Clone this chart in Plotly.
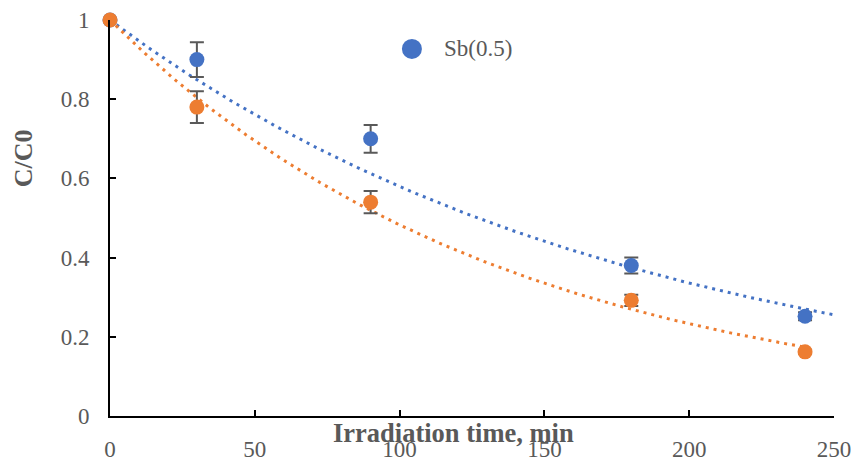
import numpy as np
import plotly.graph_objects as go

time_min = [0, 30, 90, 180, 240]
sb05 = [1.0, 0.90, 0.70, 0.38, 0.252]
sb05_err = [0.0, 0.044, 0.035, 0.02, 0.01]
other = [1.0, 0.78, 0.54, 0.292, 0.162]
other_err = [0.0, 0.04, 0.028, 0.014, 0.005]
x_ticks = [0, 50, 100, 150, 200, 250]
y_ticks = [0, 0.2, 0.4, 0.6, 0.8, 1]
y_tick_text = ["0", "0.2", "0.4", "0.6", "0.8", "1"]
legend_label = "Sb(0.5)"

BLUE = "#4472C4"
ORANGE = "#ED7D31"
GRAY = "#595959"
FONT = "Liberation Serif, Times New Roman, serif"


def exp_fit_fixed_intercept(x, y):
    # exponential trendline with intercept fixed at 1: y = exp(b*x)
    x = np.asarray(x, float)
    ly = np.log(np.asarray(y, float))
    return np.sum(x * ly) / np.sum(x * x)


b_blue = exp_fit_fixed_intercept(time_min, sb05)
b_orange = exp_fit_fixed_intercept(time_min, other)
xb = np.linspace(0, 250, 200)
xo = np.linspace(0, 240, 200)

fig = go.Figure()
fig.add_trace(go.Scatter(x=xb, y=np.exp(b_blue * xb), mode="lines",
                         line=dict(color=BLUE, width=3, dash="3px,5px"),
                         showlegend=False, hoverinfo="skip", cliponaxis=False))
fig.add_trace(go.Scatter(x=xo, y=np.exp(b_orange * xo), mode="lines",
                         line=dict(color=ORANGE, width=3, dash="3px,5px"),
                         showlegend=False, hoverinfo="skip", cliponaxis=False))
fig.add_trace(go.Scatter(x=time_min, y=sb05, mode="markers", name=legend_label,
                         marker=dict(color=BLUE, size=15),
                         error_y=dict(type="data", array=sb05_err, color=GRAY,
                                      thickness=2, width=7),
                         showlegend=False, cliponaxis=False))
fig.add_trace(go.Scatter(x=time_min, y=other, mode="markers", name="other",
                         marker=dict(color=ORANGE, size=15),
                         error_y=dict(type="data", array=other_err, color=GRAY,
                                      thickness=2, width=7),
                         showlegend=False, cliponaxis=False))

# manual legend (larger symbol than plotly's legend allows)
lx, ly = 0.417, 0.927
fig.add_shape(type="circle", xref="paper", yref="paper", xsizemode="pixel",
              ysizemode="pixel", xanchor=lx, yanchor=ly, x0=-10, x1=10, y0=-10, y1=10,
              fillcolor=BLUE, line=dict(width=0))

fig.update_layout(
    width=854, height=461,
    margin=dict(l=110, r=20, t=20, b=45),
    paper_bgcolor="white", plot_bgcolor="white",
    font=dict(family=FONT, size=23, color=GRAY),
    showlegend=False,
    annotations=[
        dict(text=legend_label, xref="paper", yref="paper", x=lx, xshift=30, y=ly,
             xanchor="left", yanchor="middle", showarrow=False,
             font=dict(family=FONT, size=23, color=GRAY)),
        dict(text="<b>Irradiation time, min</b>", xref="paper", yref="paper",
             x=0.475, y=0, yshift=-17, xanchor="center", yanchor="middle",
             showarrow=False, font=dict(family=FONT, size=26.5, color=GRAY)),
        dict(text="<b>C/C0</b>", xref="paper", yref="paper", textangle=-90,
             x=0, xshift=-87, y=0.651, xanchor="center", yanchor="middle",
             showarrow=False, font=dict(family=FONT, size=26, color=GRAY)),
    ],
)
fig.update_xaxes(range=[0, 250], tickvals=x_ticks, ticks="inside", ticklen=6,
                 tickwidth=2, tickcolor="black", showline=True, linecolor="black",
                 linewidth=2, showgrid=False, zeroline=False, ticklabelstandoff=11,
                 automargin=False, tickfont=dict(family=FONT, size=23, color=GRAY))
fig.update_yaxes(range=[0, 1], tickvals=y_ticks, ticktext=y_tick_text,
                 ticks="inside", ticklen=6, tickwidth=2, tickcolor="black",
                 showline=True, linecolor="black", linewidth=2, showgrid=False,
                 zeroline=False, ticklabelstandoff=14, automargin=False,
                 tickfont=dict(family=FONT, size=23, color=GRAY))

fig.write_html("out.html")
